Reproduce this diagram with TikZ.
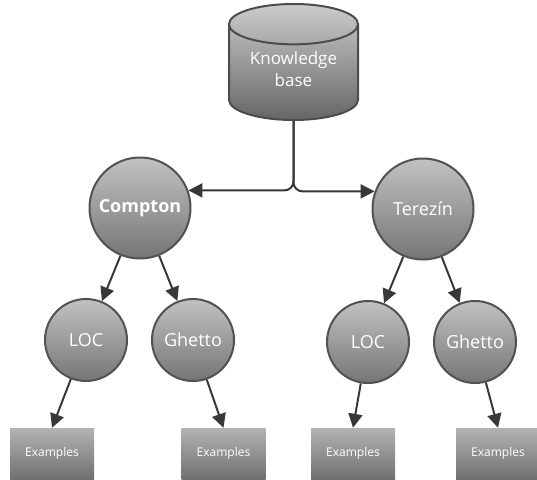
\documentclass[tikz,border=0pt]{standalone}
\usepackage{fontspec}
\setmainfont{Open Sans}
\usetikzlibrary{shapes,arrows.meta}

\begin{document}
\begin{tikzpicture}[x=1pt,y=-1pt,
        topic/.style={circle,draw=black!68,line width=2pt,top color=black!24,bottom color=black!54,text=white,inner sep=0pt,font=\fontsize{18}{20}\selectfont},
        bigtopic/.style={topic,minimum size=101pt},
        subtopic/.style={topic,minimum size=82pt},
        example/.style={rectangle,top color=black!30,bottom color=black!56,text=white,minimum width=84pt,minimum height=51pt,font=\fontsize{12}{14}\selectfont},
        link/.style={draw=black!78,line width=2pt,-{Triangle[length=14pt,width=14pt]}}]
        \useasboundingbox (0,0) rectangle (537,479);
        % knowledge base
        \node[cylinder,shape border rotate=90,aspect=0.43,draw=black!70,line width=2pt,top color=black!20,bottom color=black!60,
              text=white,minimum width=129pt,minimum height=116pt,font=\fontsize{17}{22}\selectfont,anchor=bottom] (kb) at (293.5,121)
              {\raisebox{0pt}[0pt][0pt]{\begin{tabular}{@{}c@{}}Knowledge\\base\end{tabular}}};
        % collections
        \node[bigtopic] (compton) at (140,208) {\textbf{Compton}};
        \node[bigtopic] (terezin) at (423,209) {Terezín};
        % sources
        \node[subtopic] (loc1) at (86,340) {LOC};
        \node[subtopic] (ghetto1) at (193,340) {Ghetto};
        \node[subtopic] (loc2) at (368,342) {LOC};
        \node[subtopic] (ghetto2) at (475,342) {Ghetto};
        % examples
        \node[example] (ex1) at (52,453.5) {Examples};
        \node[example] (ex2) at (223.5,453.5) {Examples};
        \node[example] (ex3) at (353,453.5) {Examples};
        \node[example] (ex4) at (498,453.5) {Examples};
        % links
        \draw[link,rounded corners=9pt] (kb.bottom) |- (compton.20);
        \draw[link,rounded corners=9pt] (kb.bottom) |- (terezin.160);
        \draw[link] (compton) -- (loc1);
        \draw[link] (compton) -- (ghetto1);
        \draw[link] (terezin) -- (loc2);
        \draw[link] (terezin) -- (ghetto2);
        \draw[link] (loc1) -- (ex1.north);
        \draw[link] (ghetto1) -- (ex2.north);
        \draw[link] (loc2) -- (ex3.north);
        \draw[link] (ghetto2) -- (ex4.north);
\end{tikzpicture}
\end{document}
